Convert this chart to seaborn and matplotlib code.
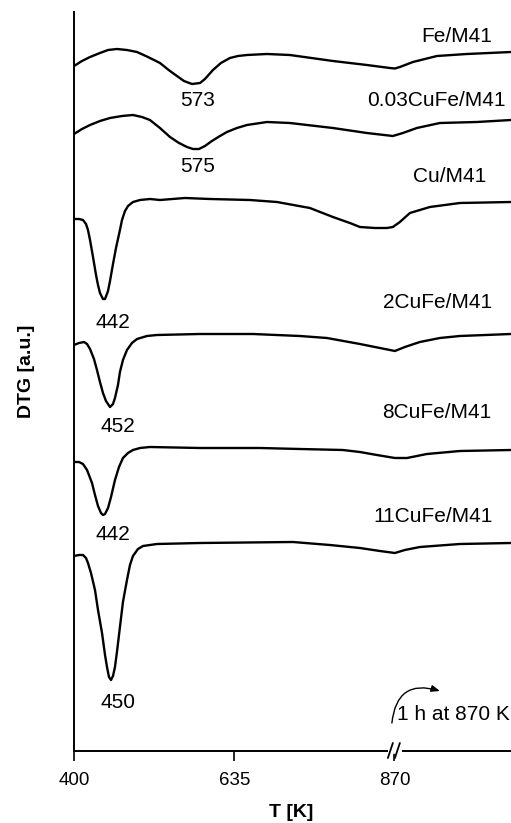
import numpy as np
import pandas as pd
import matplotlib
matplotlib.use("Agg")
import matplotlib.pyplot as plt
import seaborn as sns

# ---- data (T in K, DTG in arbitrary offset units) ----
fe_T = [400, 411.7, 423.5, 438.1, 449.9, 463.0, 477.7, 492.4, 508.5, 526.1, 540.8, 551.0, 561.3, 573.0, 584.8, 592.1,
        603.8, 615.5, 628.7, 640.5, 653.7, 683.0, 716.7, 779.8, 829.6, 863.3, 870.7, 878.0, 897.1, 932.3, 976.2, 1041]
fe_D = [685, 690, 694, 698, 701, 702, 701, 699, 694, 688, 680, 675, 670, 667, 668, 672,
        681, 688, 693, 695, 696, 697, 696, 690, 686, 683, 682.5, 684, 689, 695, 697, 699]

c003_T = [400, 411.7, 423.5, 438.1, 452.8, 470.4, 486.5, 499.7, 511.4, 526.1, 540.8, 554.0, 565.7, 574.5, 583.3, 592.1,
          602.3, 614.1, 624.3, 639.0, 653.7, 683.0, 716.7, 779.8, 829.6, 867.7, 882.4, 902.9, 936.7, 991.0, 1041]
c003_D = [617, 622, 626, 630, 633, 635, 636, 634, 631, 623, 614, 608, 604, 602, 602, 605,
          610, 615, 619, 623, 626, 629, 628, 623, 618, 615, 618, 623, 628, 629, 631]

cu_T = [400, 407.3, 413.2, 417.6, 420.5, 423.5, 427.9, 432.3, 435.2, 438.1, 442.5, 445.5, 449.9, 452.8, 457.2, 461.6,
        467.4, 470.4, 474.8, 479.2, 486.5, 496.8, 511.4, 526.1, 562.8, 599.4, 658.1, 697.7, 746.0, 779.8, 804.7, 819.4,
        841.3, 858.9, 867.7, 878.0, 892.7, 922.0, 966.0, 1041]
cu_D = [532, 532, 531, 527, 521, 511, 494, 476, 466, 458, 452, 452, 460, 470, 487, 503,
        521, 531, 540, 545, 549, 551, 552, 551, 553, 552, 551, 549, 543, 534, 528, 524,
        523, 523, 524, 529, 538, 544, 548, 549]

c2_T = [400, 407.3, 414.7, 419.1, 423.5, 429.3, 433.7, 438.1, 442.5, 446.9, 452.8, 457.2, 460.1, 464.5, 467.4, 471.8,
        477.7, 485.0, 492.4, 507.0, 521.7, 584.8, 662.5, 731.4, 771.0, 819.4, 856.0, 870.7, 885.3, 907.3, 936.7, 966.0, 1041]
c2_D = [406, 408, 409, 407, 402, 392, 381, 369, 358, 350, 344, 347, 353, 366, 379, 391,
        401, 408, 412, 415, 416, 417, 417, 415, 413, 407, 402, 400, 404, 409, 413, 415, 417]

c8_T = [400, 407.3, 413.2, 419.1, 426.4, 430.8, 435.2, 439.6, 442.5, 445.5, 449.9, 454.3, 460.1, 466.0, 471.8, 479.2,
        486.5, 496.8, 511.4, 584.8, 672.7, 731.4, 794.4, 819.4, 844.3, 870.7, 888.3, 903.0, 917.6, 966.0, 1041]
c8_D = [289, 289, 287, 281, 268, 256, 245, 238, 236, 237, 243, 254, 271, 284, 293, 298,
        301, 303, 304, 303, 303, 302, 301, 299, 296, 293, 293, 295, 297, 300, 301]

c11_T = [400, 407.3, 413.2, 417.6, 420.5, 424.9, 430.8, 435.2, 441.1, 445.5, 448.4, 451.3, 454.3, 457.2, 460.1, 463.0,
         467.4, 471.8, 477.7, 482.1, 486.5, 493.8, 501.2, 521.7, 584.8, 721.1, 775.4, 819.4, 848.7, 870.7, 885.3, 907.3,
         966.0, 1041]
c11_D = [195, 196, 196, 193, 188, 178, 161, 141, 118, 96, 84, 74, 71, 75, 84, 99,
         124, 149, 171, 186, 195, 202, 205, 207, 208, 209, 206, 203, 200, 198, 201, 204,
         207, 208]

series_names = ["Fe/M41", "0.03CuFe/M41", "Cu/M41", "2CuFe/M41", "8CuFe/M41", "11CuFe/M41"]
series_T = [fe_T, c003_T, cu_T, c2_T, c8_T, c11_T]
series_D = [fe_D, c003_D, cu_D, c2_D, c8_D, c11_D]

# curve name labels (position in T, DTG)
name_T = [962, 932, 951, 934, 932, 926]
name_D = [714, 651, 574, 448, 338, 234]

# peak labels
peak_text = ["573", "575", "442", "452", "442", "450"]
peak_T = [582, 582, 457, 464.5, 457, 464.5]
peak_D = [651, 584, 429, 324, 217, 48]

xticks = [400, 635, 870]

# ---- plotting ----
sns.set_style("ticks")
plt.rcParams['font.family'] = ['Liberation Sans', 'DejaVu Sans']
plt.rcParams['text.color'] = 'black'
plt.rcParams['axes.labelcolor'] = 'black'
plt.rcParams['xtick.color'] = 'black'

fig = plt.figure(figsize=(5.11, 8.23), dpi=100)
ax = fig.add_axes([74/511, 72/823, 437/511, 739/823])

frames = []
for name, T, D in zip(series_names, series_T, series_D):
    frames.append(pd.DataFrame({"T": T, "DTG": D, "sample": name}))
df = pd.concat(frames, ignore_index=True)

sns.lineplot(data=df, x="T", y="DTG", hue="sample", units="sample", estimator=None,
             palette=["black"] * len(series_names), linewidth=1.7, legend=False,
             sort=False, ax=ax)

ax.set_xlim(400, 1041)
ax.set_ylim(0, 739)

for s in ["top", "right"]:
    ax.spines[s].set_visible(False)
for s in ["left", "bottom"]:
    ax.spines[s].set_linewidth(1.4)
    ax.spines[s].set_color("black")

ax.set_yticks([])
ax.set_xticks(xticks)
ax.set_xticklabels([str(t) for t in xticks])
ax.tick_params(axis="x", direction="out", length=7, width=1.2, pad=8, labelsize=13.5, colors="black")

ax.set_xlabel("T [K]", fontsize=14, fontweight="bold", color="black")
ax.set_ylabel("DTG [a.u.]", fontsize=14, fontweight="bold", color="black")
ax.xaxis.set_label_coords(0.497, -0.072)
ax.yaxis.set_label_coords(-0.09, 0.514)

for name, tx, ty in zip(series_names, name_T, name_D):
    ax.text(tx, ty, name, ha="center", va="center", fontsize=15, color="black")
for txt, tx, ty in zip(peak_text, peak_T, peak_D):
    ax.text(tx, ty, txt, ha="center", va="center", fontsize=15, color="black")

# axis break marks
ax.plot([860, 881], [0, 0], color="white", lw=4, clip_on=False, zorder=5, solid_capstyle="butt")
ax.plot([860.4, 867.7], [-7, 8], color="black", lw=1.3, clip_on=False, zorder=6)
ax.plot([870.7, 878.0], [-7, 8], color="black", lw=1.3, clip_on=False, zorder=6)

# annotation
ax.text(873.6, 36, "1 h at 870 K", ha="left", va="center", fontsize=15, color="black")
ax.annotate("", xy=(936.7, 60), xytext=(866.3, 28),
            arrowprops=dict(arrowstyle="-|>,head_length=0.5,head_width=0.2", color="black", lw=1.0,
                            connectionstyle="arc3,rad=-0.6", shrinkA=0, shrinkB=0))

fig.savefig("out.png", dpi=100)
